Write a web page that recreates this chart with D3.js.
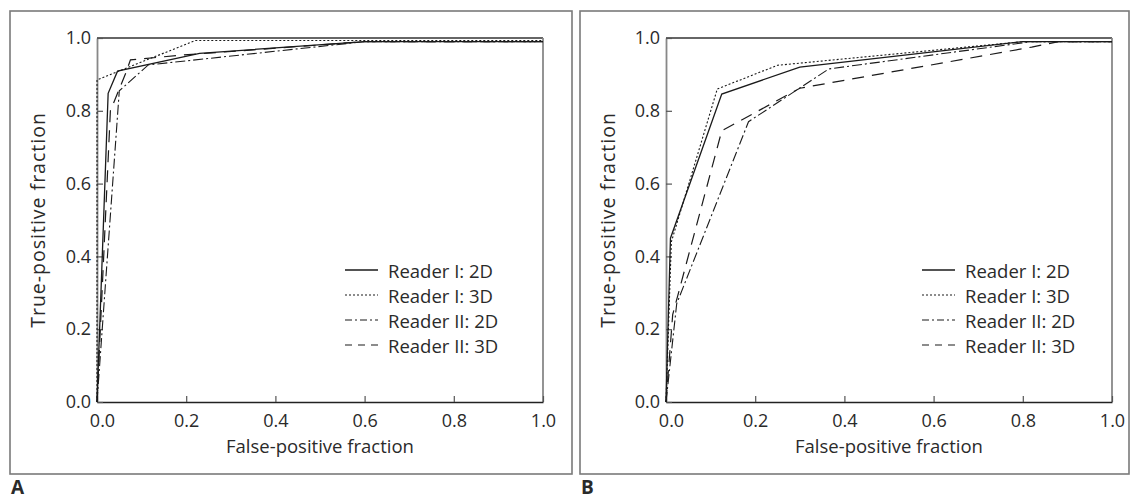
<!DOCTYPE html>
<html>
<head>
<meta charset="utf-8">
<script src="https://cdn.jsdelivr.net/npm/d3@7"></script>
<style>
  html, body { margin: 0; padding: 0; background: #fff; }
  svg { display: block; }
  text { font-family: "Open Sans", "Noto Sans", sans-serif; fill: #2a2a2a; }
</style>
</head>
<body>
<svg id="chart" width="1136" height="501"></svg>
<script>
// ---------- data ----------
const seriesNames = ["Reader I: 2D", "Reader I: 3D", "Reader II: 2D", "Reader II: 3D"];
const panelLabels = ["A", "B"];
const xTickValues = [0, 0.2, 0.4, 0.6, 0.8, 1.0];
const yTickValues = [0, 0.2, 0.4, 0.6, 0.8, 1.0];
const xTitle = "False-positive fraction";
const yTitle = "True-positive fraction";

// Panel A  [false-positive fraction, true-positive fraction]
const panelA_reader1_2D = [[0, 0], [0.025, 0.848], [0.046, 0.909], [0.23, 0.958], [0.6, 0.99], [1, 0.99]];
const panelA_reader1_3D = [[0, 0], [0, 0.885], [0.22, 0.993], [1, 0.993]];
const panelA_reader2_2D = [[0, 0], [0.05, 0.855], [0.115, 0.926], [0.6, 0.99], [1, 0.99]];
const panelA_reader2_3D = [[0, 0], [0.03, 0.80], [0.065, 0.905], [0.075, 0.94], [0.19, 0.953], [0.6, 0.99], [1, 0.99]];

// Panel B
const panelB_reader1_2D = [[0, 0], [0.01, 0.45], [0.125, 0.846], [0.30, 0.92], [0.8, 0.99], [1, 0.99]];
const panelB_reader1_3D = [[0, 0], [0.012, 0.44], [0.115, 0.86], [0.25, 0.925], [0.8, 0.99], [1, 0.99]];
const panelB_reader2_2D = [[0, 0], [0.024, 0.27], [0.185, 0.77], [0.365, 0.915], [0.82, 0.99], [1, 0.99]];
const panelB_reader2_3D = [[0, 0], [0.015, 0.24], [0.125, 0.745], [0.30, 0.862], [0.82, 0.975], [0.88, 0.99], [1, 0.99]];

const panelData = [
  [panelA_reader1_2D, panelA_reader1_3D, panelA_reader2_2D, panelA_reader2_3D],
  [panelB_reader1_2D, panelB_reader1_3D, panelB_reader2_2D, panelB_reader2_3D]
];

// ---------- styles / layout ----------
const lineDash = [null, "2,2", "10,3,2,3", "12,8"];
const legendDash = [null, "2,2", "7,3,2,3", "7,6"];
const lineWidth = [1.3, 1.1, 1.1, 1.2];

const panels = [
  { box: [10, 11, 572, 474], plot: [97, 38, 543, 402], yTitleX: 37, legendX: 345, labelX: 10 },
  { box: [580, 11, 1129, 474], plot: [666, 38, 1112, 402], yTitleX: 607, legendX: 922, labelX: 580 }
];
const legendY0 = 270, legendStep = 25, legendLen = 33;
const fontSize = 18.5;
const tickFontSize = 18;

const svg = d3.select("#chart");

panels.forEach((p, pi) => {
  const g = svg.append("g");
  // outer box
  g.append("rect")
    .attr("x", p.box[0]).attr("y", p.box[1])
    .attr("width", p.box[2] - p.box[0]).attr("height", p.box[3] - p.box[1])
    .attr("fill", "none").attr("stroke", "#7a7a7a").attr("stroke-width", 1.6);
  // panel label
  g.append("text").attr("x", p.labelX + 1).attr("y", 494)
    .attr("font-size", 19).attr("font-weight", "bold").attr("fill", "#111")
    .text(panelLabels[pi]);

  const x = d3.scaleLinear().domain([0, 1]).range([p.plot[0], p.plot[2]]);
  const y = d3.scaleLinear().domain([0, 1]).range([p.plot[3], p.plot[1]]);

  // frame: top/right lines
  g.append("line").attr("x1", p.plot[0]).attr("x2", p.plot[2]).attr("y1", p.plot[1]).attr("y2", p.plot[1])
    .attr("stroke", "#333").attr("stroke-width", 1.3);
  g.append("line").attr("x1", p.plot[2]).attr("x2", p.plot[2]).attr("y1", p.plot[1]).attr("y2", p.plot[3])
    .attr("stroke", "#888").attr("stroke-width", 1.8);

  // axes with inward ticks
  const xAxis = d3.axisBottom(x).tickValues(xTickValues).tickFormat(d3.format(".1f"))
    .tickSizeInner(-6).tickSizeOuter(0).tickPadding(12);
  const yAxis = d3.axisLeft(y).tickValues(yTickValues).tickFormat(d3.format(".1f"))
    .tickSizeInner(-6).tickSizeOuter(0).tickPadding(6);

  const gx = g.append("g").attr("transform", `translate(0,${p.plot[3]})`).call(xAxis);
  const gy = g.append("g").attr("transform", `translate(${p.plot[0]},0)`).call(yAxis);
  gx.select(".domain").attr("stroke", "#222").attr("stroke-width", 1.4);
  gy.select(".domain").attr("stroke", "#888").attr("stroke-width", 1.8);
  gx.selectAll(".tick line").attr("stroke", "#555").attr("stroke-width", 1.2);
  gy.selectAll(".tick line").attr("stroke", "#555").attr("stroke-width", 1.2);
  [gx, gy].forEach(a => a.selectAll("text")
    .attr("font-family", "\"Open Sans\", sans-serif").attr("font-size", tickFontSize).attr("fill", "#2a2a2a"));
  gx.selectAll(".tick text").filter(d => d === 0).attr("dx", 5);

  // titles
  g.append("text")
    .attr("x", (p.plot[0] + p.plot[2]) / 2).attr("y", 453)
    .attr("text-anchor", "middle").attr("font-size", fontSize)
    .text(xTitle);
  g.append("text")
    .attr("transform", `translate(${p.yTitleX},${(p.plot[1] + p.plot[3]) / 2}) rotate(-90)`)
    .attr("text-anchor", "middle").attr("dominant-baseline", "central")
    .attr("font-size", 19.5).attr("letter-spacing", 1)
    .text(yTitle);

  // curves
  const line = d3.line().x(d => x(d[0])).y(d => y(d[1]));
  panelData[pi].forEach((series, si) => {
    g.append("path").datum(series)
      .attr("d", line)
      .attr("fill", "none")
      .attr("stroke", "#1a1a1a")
      .attr("stroke-width", lineWidth[si])
      .attr("stroke-dasharray", lineDash[si]);
  });

  // legend
  seriesNames.forEach((name, si) => {
    const ly = legendY0 + si * legendStep;
    g.append("line")
      .attr("x1", p.legendX).attr("x2", p.legendX + legendLen)
      .attr("y1", ly).attr("y2", ly)
      .attr("stroke", "#1a1a1a").attr("stroke-width", lineWidth[si])
      .attr("stroke-dasharray", legendDash[si]);
    g.append("text")
      .attr("x", p.legendX + legendLen + 10).attr("y", ly)
      .attr("dominant-baseline", "central").attr("font-size", fontSize)
      .text(name);
  });
});
</script>
</body>
</html>
